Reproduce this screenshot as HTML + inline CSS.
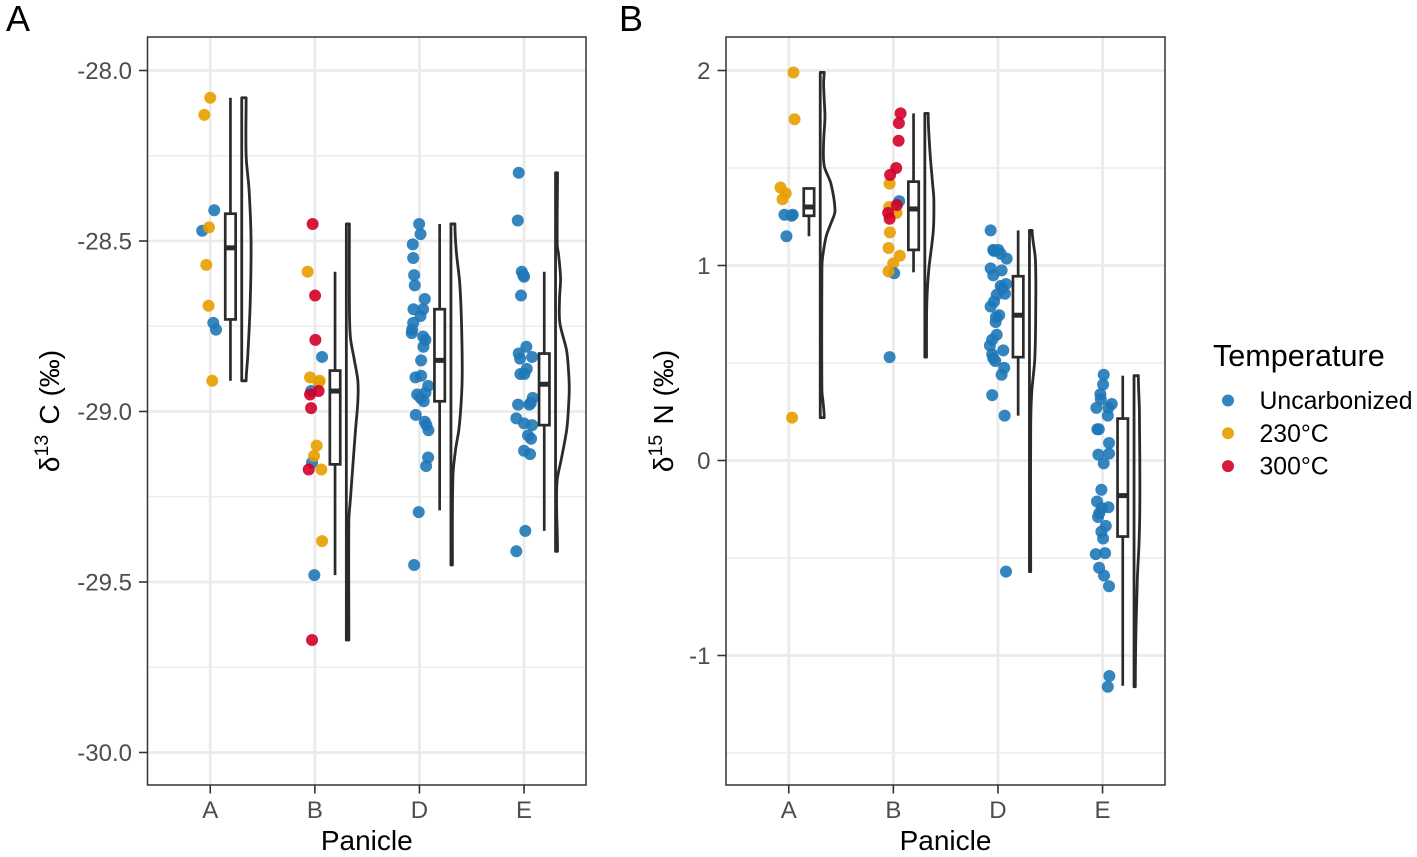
<!DOCTYPE html>
<html lang="en">
<head>
<meta charset="utf-8">
<title>Carbon and nitrogen isotope values by panicle</title>
<style>
html,body{margin:0;padding:0;background:#fff;width:1417px;height:857px;overflow:hidden}
svg{display:block;font-family:"Liberation Sans",Arial,sans-serif;filter:blur(0.3px)}
</style>
</head>
<body>
<svg id="chart" xmlns="http://www.w3.org/2000/svg" width="1417" height="857" viewBox="0 0 1417 857"></svg>
<script>
// ---------- shared categories and labels ----------
const categories = ['A', 'B', 'D', 'E'];
const legendLabels = ['Uncarbonized', '230°C', '300°C'];
const c13Ticks = [-28, -28.5, -29, -29.5, -30];
const c13TickLabels = ['-28.0', '-28.5', '-29.0', '-29.5', '-30.0'];
const c13MinorTicks = [-28.25, -28.75, -29.25, -29.75];
const n15Ticks = [2, 1, 0, -1];
const n15TickLabels = ['2', '1', '0', '-1'];
const n15MinorTicks = [1.5, 0.5, -0.5, -1.5];

// ---------- δ13C points: value, horizontal jitter (category units), temperature (0 uncarbonized, 1 230°C, 2 300°C) ----------
const c13ValuesA = [-28.08, -28.13, -28.41, -28.47, -28.46, -28.57, -28.69, -28.74, -28.76, -28.91];
const c13JitterA = [0, -0.057, 0.038, -0.077, -0.012, -0.038, -0.016, 0.029, 0.055, 0.019];
const c13TempA = [1, 1, 0, 0, 1, 1, 1, 0, 0, 1];

const c13ValuesB = [-28.45, -28.59, -28.66, -28.79, -28.84, -28.915, -28.91, -28.90, -28.94, -28.94, -28.95, -28.99, -29.15, -29.10, -29.13, -29.17, -29.17, -29.38, -29.48, -29.67];
const c13JitterB = [-0.021, -0.069, 0.002, 0.005, 0.069, 0.036, 0.046, -0.046, -0.036, 0.036, -0.046, -0.036, -0.027, 0.017, -0.008, 0.062, -0.059, 0.069, -0.005, -0.027];
const c13TempB = [2, 1, 2, 2, 0, 1, 1, 1, 0, 2, 2, 2, 0, 1, 1, 1, 2, 1, 0, 2];

const c13ValuesD = [-28.45, -28.48, -28.51, -28.55, -28.60, -28.63, -28.67, -28.70, -28.70, -28.72, -28.74, -28.76, -28.77, -28.78, -28.79, -28.81, -28.85, -28.90, -28.895, -28.925, -28.95, -28.945, -28.96, -28.97, -29.01, -29.03, -29.04, -29.055, -29.135, -29.16, -29.295, -29.45];
const c13JitterD = [-0.003, 0.01, -0.064, -0.06, -0.051, -0.045, 0.051, -0.057, 0.035, 0.01, -0.06, -0.07, -0.074, 0.035, 0.057, 0.038, 0.016, -0.038, 0.016, 0.083, -0.022, 0.057, 0.01, 0.041, -0.035, 0.051, 0.067, 0.086, 0.083, 0.064, -0.007, -0.051];
const c13TempD = [0, 0, 0, 0, 0, 0, 0, 0, 0, 0, 0, 0, 0, 0, 0, 0, 0, 0, 0, 0, 0, 0, 0, 0, 0, 0, 0, 0, 0, 0, 0, 0];

const c13ValuesE = [-28.30, -28.44, -28.59, -28.60, -28.605, -28.66, -28.81, -28.83, -28.84, -28.845, -28.875, -28.89, -28.89, -28.96, -28.975, -28.98, -28.98, -29.02, -29.035, -29.04, -29.07, -29.08, -29.115, -29.125, -29.35, -29.41];
const c13JitterE = [-0.051, -0.06, -0.022, -0.007, 0, -0.029, 0.022, -0.051, 0.077, -0.038, 0.026, -0.035, 0.003, 0.083, 0.064, -0.057, 0.051, -0.074, 0, 0.077, 0.038, 0.067, 0, 0.057, 0.012, -0.074];
const c13TempE = [0, 0, 0, 0, 0, 0, 0, 0, 0, 0, 0, 0, 0, 0, 0, 0, 0, 0, 0, 0, 0, 0, 0, 0, 0, 0];

// ---------- δ15N points ----------
const n15ValuesA = [1.99, 1.75, 1.40, 1.37, 1.34, 1.26, 1.255, 1.26, 1.15, 0.22];
const n15JitterA = [0.045, 0.055, -0.079, -0.029, -0.06, -0.041, 0.026, 0.038, -0.022, 0.032];
const n15TempA = [1, 1, 1, 1, 1, 0, 0, 0, 0, 1];

const n15ValuesB = [1.42, 1.30, 1.27, 1.33, 1.78, 1.73, 1.64, 1.465, 1.50, 1.31, 1.27, 1.24, 1.17, 1.09, 1.05, 1.01, 0.96, 0.97, 0.53];
const n15JitterB = [-0.036, -0.04, 0.031, 0.056, 0.069, 0.053, 0.05, -0.031, 0.027, 0.033, -0.05, -0.036, -0.033, -0.046, 0.062, -0.002, 0.008, -0.046, -0.036];
const n15TempB = [1, 1, 1, 0, 2, 2, 2, 2, 2, 2, 2, 2, 1, 1, 1, 1, 0, 1, 0];

const n15ValuesD = [1.18, 1.08, 1.08, 1.075, 1.06, 1.035, 0.985, 0.975, 0.95, 0.905, 0.895, 0.88, 0.855, 0.85, 0.815, 0.79, 0.745, 0.735, 0.71, 0.645, 0.62, 0.59, 0.565, 0.545, 0.525, 0.51, 0.475, 0.44, 0.335, 0.23, -0.57];
const n15JitterD = [-0.07, -0.045, 0.003, -0.038, 0.026, 0.083, -0.07, 0.035, -0.045, 0.077, 0.026, 0.041, 0.067, -0.012, -0.038, -0.07, 0.012, -0.019, -0.022, -0.012, -0.055, -0.077, 0.051, -0.055, -0.045, -0.026, 0.06, 0.035, -0.055, 0.064, 0.077];
const n15TempD = [0, 0, 0, 0, 0, 0, 0, 0, 0, 0, 0, 0, 0, 0, 0, 0, 0, 0, 0, 0, 0, 0, 0, 0, 0, 0, 0, 0, 0, 0, 0];

const n15ValuesE = [0.44, 0.39, 0.34, 0.315, 0.29, 0.27, 0.27, 0.23, 0.16, 0.16, 0.09, 0.03, 0.035, -0.015, -0.15, -0.21, -0.24, -0.245, -0.27, -0.29, -0.335, -0.365, -0.40, -0.48, -0.475, -0.55, -0.59, -0.645, -1.105, -1.16];
const n15JitterE = [0.011, 0.005, -0.021, -0.017, 0.088, -0.059, 0.056, 0.05, -0.05, -0.036, 0.062, -0.04, 0.062, 0.011, -0.011, -0.053, 0.056, -0.008, -0.031, -0.043, 0.031, -0.011, 0.005, -0.065, 0.024, -0.033, 0.014, 0.062, 0.065, 0.05];
const n15TempE = [0, 0, 0, 0, 0, 0, 0, 0, 0, 0, 0, 0, 0, 0, 0, 0, 0, 0, 0, 0, 0, 0, 0, 0, 0, 0, 0, 0, 0, 0];

// ---------- boxplot summaries, one entry per category ----------
const c13BoxLow = [-28.91, -29.48, -29.29, -29.35];
const c13BoxQ1 = [-28.73, -29.155, -28.97, -29.04];
const c13BoxMedian = [-28.52, -28.94, -28.85, -28.92];
const c13BoxQ3 = [-28.42, -28.88, -28.70, -28.83];
const c13BoxHigh = [-28.08, -28.59, -28.45, -28.59];

const n15BoxLow = [1.15, 0.965, 0.23, -1.155];
const n15BoxQ1 = [1.255, 1.08, 0.53, -0.39];
const n15BoxMedian = [1.30, 1.29, 0.745, -0.18];
const n15BoxQ3 = [1.395, 1.43, 0.945, 0.215];
const n15BoxHigh = [1.395, 1.78, 1.18, 0.435];

// ---------- half-violin densities ----------
const c13ViolinValuesA = [-28.08, -28.25, -28.35, -28.50, -28.69, -28.84, -28.91];
const c13ViolinDensityA = [0.42, 0.42, 0.70, 0.89, 0.80, 0.57, 0.42];
const c13ViolinValuesB = [-28.45, -28.67, -28.78, -28.85, -28.91, -28.97, -29.06, -29.16, -29.26, -29.32, -29.67];
const c13ViolinDensityB = [0.29, 0.29, 0.38, 0.77, 1.10, 1.10, 0.86, 0.62, 0.38, 0.24, 0.24];
const c13ViolinValuesD = [-28.45, -28.53, -28.62, -28.72, -28.87, -28.95, -29.05, -29.11, -29.19, -29.45];
const c13ViolinDensityD = [0.38, 0.51, 0.83, 0.99, 1.08, 1.02, 0.77, 0.45, 0.19, 0.14];
const c13ViolinValuesE = [-28.30, -28.51, -28.54, -28.61, -28.67, -28.74, -28.82, -28.88, -28.93, -28.97, -29.05, -29.14, -29.20, -29.27, -29.41];
const c13ViolinDensityE = [0.19, 0.16, 0.29, 0.48, 0.38, 0.41, 1.05, 1.24, 1.31, 1.27, 1.08, 0.55, 0.16, 0.10, 0.19];

const n15ViolinValuesA = [1.99, 1.94, 1.85, 1.76, 1.63, 1.51, 1.42, 1.28, 1.22, 1.15, 1.04, 0.98, 0.36, 0.29, 0.22];
const n15ViolinDensityA = [0.38, 0.32, 0.38, 0.45, 0.32, 0.38, 1.02, 1.41, 1.05, 0.57, 0.22, 0.16, 0.16, 0.29, 0.38];
const n15ViolinValuesB = [1.78, 1.59, 1.42, 1.34, 1.18, 0.98, 0.81, 0.53];
const n15ViolinDensityB = [0.32, 0.48, 0.74, 0.86, 0.81, 0.38, 0.19, 0.16];
const n15ViolinValuesD = [1.18, 1.03, 0.77, 0.52, 0.35, 0.17, -0.57];
const n15ViolinDensityD = [0.26, 0.57, 0.60, 0.51, 0.22, 0.12, 0.12];
const n15ViolinValuesE = [0.435, 0.26, 0, -0.25, -0.42, -0.60, -0.85, -1.16];
const n15ViolinDensityE = [0.41, 0.51, 0.55, 0.55, 0.48, 0.32, 0.19, 0.12];

// ---------- styling ----------
const tempColors = ['#1f78b8', '#e89f00', '#d0002a'];
const INK = '#2b2b2b';
const svg = document.getElementById('chart');
const NS = 'http://www.w3.org/2000/svg';

function make(tag, attrs, parent, text) {
  const el = document.createElementNS(NS, tag);
  for (const k in attrs) el.setAttribute(k, attrs[k]);
  if (text !== undefined) el.textContent = text;
  (parent || svg).appendChild(el);
  return el;
}

// Hermite spline parameterised on the vertical coordinate, which keeps uneven samples free of kinks.
function smoothPath(pts) {
  const slope = pts.map((p, i) => {
    const a = pts[Math.max(0, i - 1)], b = pts[Math.min(pts.length - 1, i + 1)];
    if (i === 0 || i === pts.length - 1) return 0;
    return (b[0] - a[0]) / (b[1] - a[1]);
  });
  let d = '';
  for (let i = 0; i < pts.length - 1; i++) {
    const p1 = pts[i], p2 = pts[i + 1], h = (p2[1] - p1[1]) / 3;
    d += ' C' + (p1[0] + slope[i] * h).toFixed(2) + ' ' + (p1[1] + h).toFixed(2) + ' ' +
         (p2[0] - slope[i + 1] * h).toFixed(2) + ' ' + (p2[1] - h).toFixed(2) + ' ' +
         p2[0].toFixed(2) + ' ' + p2[1].toFixed(2);
  }
  return d;
}

function drawPanel(cfg) {
  const BAND = 104.6;
  const x = pos => cfg.left + 0.6 * BAND + pos * BAND;
  const y = v => cfg.y0 + (cfg.vTop - v) * cfg.k;
  const top = 37, bottom = 785, right = cfg.left + cfg.width;

  const panel = make('g', {});
  
  

  // grid
  const grid = make('g', {}, panel);
  
  
  cfg.minor.forEach(v => {
    make('line', {x1: cfg.left, x2: right, y1: y(v), y2: y(v), stroke: '#ececec', 'stroke-width': 1.4}, grid);
  });
  cfg.ticks.forEach(v => {
    make('line', {x1: cfg.left, x2: right, y1: y(v), y2: y(v), stroke: '#ebebeb', 'stroke-width': 2.8}, grid);
  });
  categories.forEach((c, i) => {
    make('line', {x1: x(i), x2: x(i), y1: top, y2: bottom, stroke: '#ebebeb', 'stroke-width': 2.8}, grid);
  });

  // jittered points
  cfg.points.forEach((s, i) => {
    const g = make('g', {}, panel);
    
    
    s.values.forEach((v, j) => {
      const c = make('circle', {cx: x(i + s.jitter[j]), cy: y(v), r: 6, fill: tempColors[s.temp[j]], 'fill-opacity': 0.9}, g);
      
      
    });
  });

  // boxplots
  categories.forEach((c, i) => {
    const g = make('g', {fill: 'none', stroke: INK, 'stroke-width': 2.7}, panel);
    
    
    const cx = x(i + 0.193), hw = 5.2;
    make('line', {x1: cx, x2: cx, y1: y(cfg.box.high[i]), y2: y(cfg.box.q3[i])}, g);
    make('line', {x1: cx, x2: cx, y1: y(cfg.box.q1[i]), y2: y(cfg.box.low[i])}, g);
    make('rect', {x: cx - hw, width: 2 * hw, y: y(cfg.box.q3[i]), height: y(cfg.box.q1[i]) - y(cfg.box.q3[i]), fill: '#fff'}, g);
    make('line', {x1: cx - hw, x2: cx + hw, y1: y(cfg.box.median[i]), y2: y(cfg.box.median[i]), 'stroke-width': 5}, g);
  });

  // half violins
  categories.forEach((c, i) => {
    const base = x(i + 0.301);
    const unit = BAND * 0.1;
    const vals = cfg.violins[i].values, dens = cfg.violins[i].density;
    const pts = vals.map((v, j) => [base + dens[j] * unit, y(v)]);
    const d = 'M' + base.toFixed(2) + ' ' + pts[0][1].toFixed(2) + ' L' + pts[0][0].toFixed(2) + ' ' + pts[0][1].toFixed(2) +
              smoothPath(pts) + ' L' + base.toFixed(2) + ' ' + pts[pts.length - 1][1].toFixed(2) + ' Z';
    const p = make('path', {d: d, fill: 'none', stroke: INK, 'stroke-width': 2.8, 'stroke-linejoin': 'round'}, panel);
    
    
  });

  // border
  const border = make('rect', {x: cfg.left, y: top, width: cfg.width, height: bottom - top, fill: 'none', stroke: '#333', 'stroke-width': 1.5}, panel);
  
  

  // y axis
  const yAxis = make('g', {}, panel);
  
  
  cfg.ticks.forEach((v, i) => {
    make('line', {x1: cfg.left - 8.5, x2: cfg.left, y1: y(v), y2: y(v), stroke: '#333', 'stroke-width': 1.6}, yAxis);
    const t = make('text', {x: cfg.left - 15.5, y: y(v) + 8.6, 'text-anchor': 'end', 'font-size': 24, fill: '#4d4d4d'}, yAxis, cfg.tickLabels[i]);
    
    
  });

  // x axis
  const xAxis = make('g', {}, panel);
  
  
  categories.forEach((c, i) => {
    make('line', {x1: x(i), x2: x(i), y1: bottom, y2: bottom + 8.5, stroke: '#333', 'stroke-width': 1.6}, xAxis);
    const t = make('text', {x: x(i), y: 818, 'text-anchor': 'middle', 'font-size': 24, fill: '#4d4d4d'}, xAxis, c);
    
    
  });

  const xTitle = make('text', {x: cfg.left + cfg.width / 2, y: 850, 'text-anchor': 'middle', 'font-size': 28, fill: '#000'}, panel, 'Panicle');
  
  

  // y title
  const yTitle = make('text', {transform: 'translate(' + cfg.titleX + ',411) rotate(-90)', 'text-anchor': 'middle', 'font-size': 28, fill: '#000'}, panel);
  
  
  make('tspan', {}, yTitle, 'δ');
  make('tspan', {dy: -11, 'font-size': 19.5}, yTitle, cfg.isotope);
  make('tspan', {dy: 11, dx: 2.5}, yTitle, ' ' + cfg.element + ' (‰)');

  // panel tag
  const tag = make('text', {x: cfg.tagX, y: 31, 'font-size': 36, fill: '#000'}, panel, cfg.tag);
  
  
}

drawPanel({
  id: 'carbon', tag: 'A', tagX: 6, left: 147.5, width: 438.5, y0: 70.5, vTop: -28, k: 341,
  ticks: c13Ticks, tickLabels: c13TickLabels, minor: c13MinorTicks, titleX: 59, isotope: '13', element: 'C',
  points: [
    {values: c13ValuesA, jitter: c13JitterA, temp: c13TempA},
    {values: c13ValuesB, jitter: c13JitterB, temp: c13TempB},
    {values: c13ValuesD, jitter: c13JitterD, temp: c13TempD},
    {values: c13ValuesE, jitter: c13JitterE, temp: c13TempE}
  ],
  box: {low: c13BoxLow, q1: c13BoxQ1, median: c13BoxMedian, q3: c13BoxQ3, high: c13BoxHigh},
  violins: [
    {values: c13ViolinValuesA, density: c13ViolinDensityA},
    {values: c13ViolinValuesB, density: c13ViolinDensityB},
    {values: c13ViolinValuesD, density: c13ViolinDensityD},
    {values: c13ViolinValuesE, density: c13ViolinDensityE}
  ]
});

drawPanel({
  id: 'nitrogen', tag: 'B', tagX: 619, left: 726, width: 439, y0: 70.5, vTop: 2, k: 195,
  ticks: n15Ticks, tickLabels: n15TickLabels, minor: n15MinorTicks, titleX: 673, isotope: '15', element: 'N',
  points: [
    {values: n15ValuesA, jitter: n15JitterA, temp: n15TempA},
    {values: n15ValuesB, jitter: n15JitterB, temp: n15TempB},
    {values: n15ValuesD, jitter: n15JitterD, temp: n15TempD},
    {values: n15ValuesE, jitter: n15JitterE, temp: n15TempE}
  ],
  box: {low: n15BoxLow, q1: n15BoxQ1, median: n15BoxMedian, q3: n15BoxQ3, high: n15BoxHigh},
  violins: [
    {values: n15ViolinValuesA, density: n15ViolinDensityA},
    {values: n15ViolinValuesB, density: n15ViolinDensityB},
    {values: n15ViolinValuesD, density: n15ViolinDensityD},
    {values: n15ViolinValuesE, density: n15ViolinDensityE}
  ]
});

// legend
const legend = make('g', {});


const legendTitle = make('text', {x: 1213, y: 366, 'font-size': 30.6, fill: '#000'}, legend, 'Temperature');


legendLabels.forEach((label, i) => {
  const cy = 400.5 + i * 32.8;
  const entry = make('g', {}, legend);
  
  
  make('circle', {cx: 1228, cy: cy, r: 6, fill: tempColors[i], 'fill-opacity': 0.9}, entry);
  make('text', {x: 1259.5, y: cy + 8.5, 'font-size': 24.8, fill: '#000'}, entry, label);
});
</script>
</body>
</html>
